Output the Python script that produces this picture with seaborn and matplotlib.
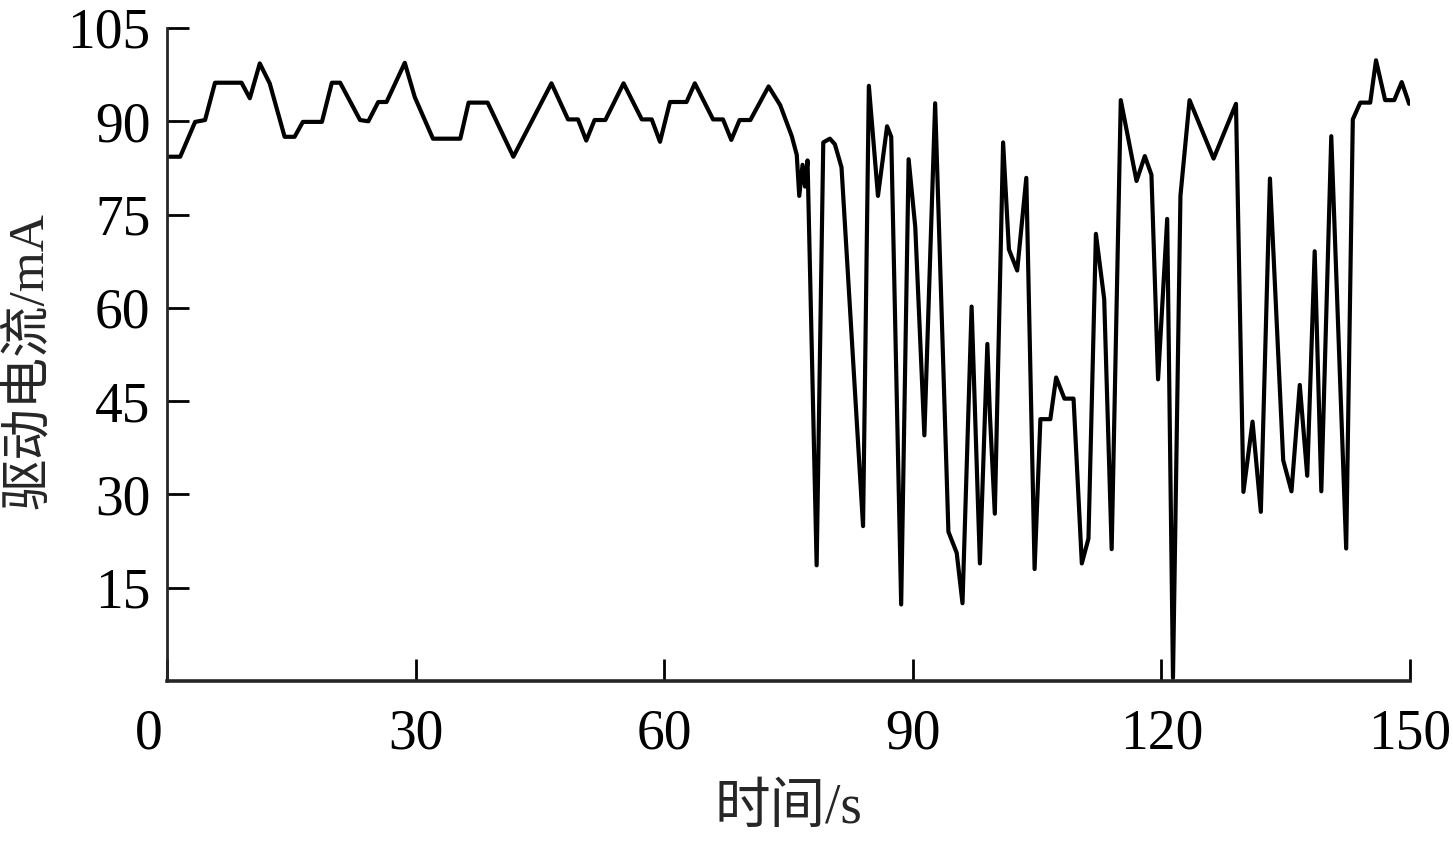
import numpy as np
import pandas as pd
import matplotlib
matplotlib.use("Agg")
import matplotlib.pyplot as plt
import matplotlib.transforms as mtransforms
import seaborn as sns

# Drive current trace (time in s, current in mA)
time_s = [
    0.3, 1.6, 3.4, 4.6, 5.8, 9.0, 10.0, 11.2, 12.4, 14.2,
    15.4, 16.4, 18.7, 19.9, 20.9, 23.3, 24.3, 25.5, 26.5, 28.7,
    29.9, 32.1, 35.4, 36.4, 38.7, 41.8, 46.4, 48.4, 49.6, 50.6,
    51.6, 52.9, 55.1, 57.3, 58.5, 59.5, 60.7, 62.7, 63.7, 65.9,
    67.1, 68.1, 69.1, 70.4, 72.6, 74.0, 75.4, 76.0, 76.3, 76.7,
    77.0, 77.3, 78.4, 79.2, 80.0, 80.6, 81.4, 84.0, 84.7, 85.8,
    86.9, 87.4, 88.6, 89.5, 90.3, 91.4, 92.7, 94.3, 95.3, 96.0,
    97.1, 98.1, 99.0, 99.3, 99.9, 100.9, 101.6, 102.6, 103.7, 104.7,
    105.4, 106.6, 107.3, 108.3, 109.4, 110.4, 111.2, 112.1, 113.1, 114.0,
    115.1, 117.0, 118.0, 118.8, 119.6, 120.7, 121.4, 122.3, 123.4, 126.3,
    129.0, 129.9, 131.0, 132.0, 133.1, 134.7, 135.7, 136.7, 137.6, 138.5,
    139.3, 140.5, 142.3, 143.1, 144.0, 145.2, 145.9, 147.0, 148.1, 149.0,
    149.9,
]
current_ma = [
    84.3, 84.3, 89.9, 90.2, 96.2, 96.2, 93.7, 99.3, 96.1, 87.5,
    87.5, 89.9, 89.9, 96.2, 96.2, 90.2, 90.0, 93.1, 93.1, 99.4,
    93.9, 87.2, 87.2, 93.0, 93.0, 84.3, 96.1, 90.3, 90.3, 86.9,
    90.2, 90.2, 96.1, 90.3, 90.3, 86.7, 93.1, 93.1, 96.1, 90.3,
    90.3, 87.0, 90.2, 90.2, 95.6, 92.6, 87.6, 84.6, 78.0, 83.0,
    79.5, 83.7, 18.6, 86.6, 87.2, 86.3, 82.6, 24.9, 95.7, 78.0,
    89.2, 87.5, 12.3, 83.9, 73.0, 39.5, 92.9, 24.0, 20.6, 12.5,
    60.2, 18.9, 54.2, 43.0, 26.9, 86.6, 69.4, 66.0, 80.9, 18.0,
    42.1, 42.1, 48.8, 45.4, 45.4, 18.9, 22.9, 71.9, 61.4, 21.2,
    93.4, 80.4, 84.4, 81.4, 48.5, 74.3, 0.5, 78.0, 93.4, 84.0,
    92.8, 30.4, 41.7, 27.2, 80.8, 35.5, 30.5, 47.6, 33.0, 69.1,
    30.5, 87.6, 21.3, 90.3, 93.0, 93.0, 99.8, 93.4, 93.4, 96.3,
    92.8,
]

x_ticks = [0, 30, 60, 90, 120, 150]
y_ticks = [15, 30, 45, 60, 75, 90, 105]

df = pd.DataFrame({"time": time_s, "current": current_ma})

sns.set_style("ticks")
plt.rcParams["font.family"] = ["Liberation Serif", "Noto Sans CJK SC", "DejaVu Sans"]

fig = plt.figure(figsize=(14.53, 8.43), dpi=100)
ax = fig.add_axes([0.1149, 0.1922, 0.8555, 0.7746])

sns.lineplot(data=df, x="time", y="current", color="black", linewidth=3.0,
             estimator=None, sort=False, ax=ax)

ax.set_xlim(0, 150)
ax.set_ylim(0, 105)
ax.set_xticks(x_ticks)
ax.set_yticks(y_ticks)
ax.set_xticklabels([str(v) for v in x_ticks])
ax.set_yticklabels([str(v) for v in y_ticks])

for side in ["top", "right"]:
    ax.spines[side].set_visible(False)
ax.spines["left"].set_linewidth(2.0)
ax.spines["bottom"].set_linewidth(2.6)
ax.tick_params(axis="both", direction="in", length=16, width=2.0,
               labelsize=40, colors="black")
ax.tick_params(axis="x", pad=20)
ax.tick_params(axis="y", pad=12)

# the "0" sits left of the corner in the original
zero_lbl = ax.get_xticklabels()[0]
zero_lbl.set_transform(zero_lbl.get_transform()
                       + mtransforms.ScaledTranslation(-0.18, 0, fig.dpi_scale_trans))

ax.set_xlabel("时间/s", fontsize=40, labelpad=16)
ax.set_ylabel("驱动电流/mA", fontsize=37)
ax.yaxis.set_label_coords(-0.092, 0.49)

fig.savefig("out.png", dpi=100)
